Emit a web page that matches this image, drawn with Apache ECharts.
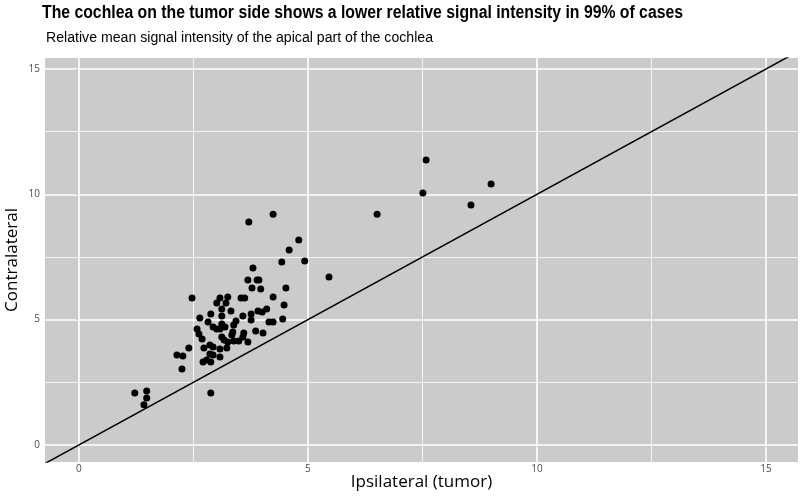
<!DOCTYPE html>
<html>
<head>
<meta charset="utf-8">
<script src="https://cdn.jsdelivr.net/npm/echarts@6/dist/echarts.min.js"></script>
<style>html,body{margin:0;padding:0;background:#fff}#c{width:800px;height:497px}</style>
</head>
<body>
<div id="c"></div>
<script>
// Data (Ipsilateral / tumor side, Contralateral)
const ipsilateral = [7.58,7.51,9.00,8.56,6.51,5.46,3.71,4.24,4.80,4.59,4.93,4.43,4.52,3.80,3.69,3.89,3.93,3.78,3.97,4.24,4.48,4.00,4.10,4.15,4.24,4.45,4.02,2.47,3.08,3.25,3.54,3.62,3.01,3.21,3.12,3.32,2.88,2.64,3.12,3.58,3.76,3.91,2.82,3.43,3.76,3.12,3.19,2.93,3.38,2.58,3.01,3.08,3.36,3.86,2.62,3.60,3.58,3.34,3.12,2.69,3.17,3.25,3.38,3.49,3.69,2.86,2.40,2.73,2.93,3.08,3.23,2.86,2.93,3.08,2.79,2.71,2.88,2.27,2.14,2.25,1.22,1.48,1.48,1.42,2.88];
const contralateral = [11.37,10.05,10.41,9.57,9.21,6.70,8.90,9.21,8.18,7.78,7.34,7.30,6.26,7.06,6.58,6.58,6.58,6.26,6.22,5.90,5.58,5.31,5.42,4.91,4.91,5.03,4.47,5.86,5.86,5.90,5.86,5.86,5.66,5.66,5.42,5.35,5.23,5.07,5.15,5.15,5.23,5.35,4.91,4.95,4.99,4.83,4.71,4.71,4.79,4.63,4.63,4.63,4.51,4.55,4.43,4.47,4.31,4.39,4.31,4.23,4.19,4.11,4.15,4.15,4.11,3.99,3.87,3.87,3.91,3.83,3.87,3.63,3.59,3.51,3.39,3.31,3.31,3.55,3.59,3.03,2.07,2.15,1.87,1.60,2.07];
const tickValues = [0, 5, 10, 15];
const minorValues = [2.5, 7.5, 12.5];
const identityLine = [[-2, -2], [17, 17]];
const titleText = 'The cochlea on the tumor side shows a lower relative signal intensity in 99% of cases';
const subtitleText = 'Relative mean signal intensity of the apical part of the cochlea';
const xName = 'Ipsilateral (tumor)';
const yName = 'Contralateral';

const points = ipsilateral.map((x, i) => [x, contralateral[i]]);
const chart = echarts.init(document.getElementById('c'), null, {renderer: 'canvas'});

// measure text so condensed headings fit their original widths
const mctx = document.createElement('canvas').getContext('2d');
function fitScale(text, font, width) {
  mctx.font = font;
  return width / mctx.measureText(text).width;
}
const titleFont = "bold 18px 'Liberation Sans'";
const subFont = "14px 'Liberation Sans'";
const titleScale = fitScale(titleText, titleFont, 641);
const subScale = fitScale(subtitleText, subFont, 387);

function gridLines(axis) {
  const major = tickValues.map(v => ({[axis]: v, lineStyle: {width: 1.6}}));
  const minor = minorValues.map(v => ({[axis]: v, lineStyle: {width: 0.8}}));
  return major.concat(minor);
}

const axisCommon = {
  type: 'value',
  axisLine: {show: false},
  splitLine: {show: false},
  axisTick: {show: true, customValues: tickValues, length: 3, lineStyle: {color: '#333', width: 1}},
  axisLabel: {customValues: tickValues, color: '#4d4d4d', fontSize: 10, fontFamily: 'Open Sans'}
};

chart.setOption({
  animation: false,
  graphic: [
    {type: 'text', left: 42, top: 4, scaleX: titleScale, originX: 0,
     style: {text: titleText, font: titleFont, fill: '#000'}},
    {type: 'text', left: 46, top: 31, scaleX: subScale, originX: 0,
     style: {text: subtitleText, font: subFont, fill: '#000'}}
  ],
  grid: {left: 45, right: 2, top: 58, bottom: 35, show: true, backgroundColor: '#cbcbcb', borderWidth: 0,
         containLabel: false, outerBoundsMode: 'none'},
  xAxis: Object.assign({}, axisCommon, {
    min: -0.74, max: 15.7,
    name: xName, nameLocation: 'middle', nameGap: 12, nameMoveOverlap: false,
    nameTextStyle: {fontFamily: 'Open Sans', fontSize: 17, color: '#000'},
    axisLabel: Object.assign({}, axisCommon.axisLabel, {margin: 2})
  }),
  yAxis: Object.assign({}, axisCommon, {
    min: -0.68, max: 15.44,
    name: yName, nameLocation: 'middle', nameGap: 24, nameMoveOverlap: false,
    nameTextStyle: {fontFamily: 'Open Sans', fontSize: 17, color: '#000'},
    axisLabel: Object.assign({}, axisCommon.axisLabel, {margin: 5})
  }),
  series: [
    {type: 'line', data: [], silent: true, z: 1,
     markLine: {silent: true, symbol: 'none', label: {show: false}, animation: false, z: 1,
       lineStyle: {color: '#ffffff', type: 'solid'},
       data: gridLines('xAxis').concat(gridLines('yAxis'))}},
    {type: 'line', data: identityLine, showSymbol: false, clip: true, z: 8,
     lineStyle: {color: '#000', width: 1.5}},
    {type: 'scatter', data: points, symbolSize: 7, z: 10,
     itemStyle: {color: '#000', opacity: 1}}
  ]
});
</script>
</body>
</html>
